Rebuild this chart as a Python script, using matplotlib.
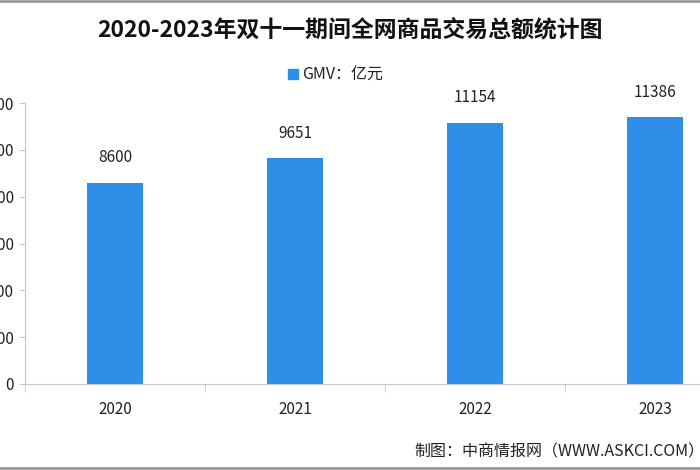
import matplotlib
matplotlib.use("Agg")
import matplotlib.pyplot as plt
from matplotlib.patches import Rectangle
from matplotlib.lines import Line2D

plt.rcParams['font.family'] = ['Noto Sans CJK SC', 'DejaVu Sans']

years = ['2020', '2021', '2022', '2023']
gmv = [8600, 9651, 11154, 11386]
yticks = [0, 2000, 4000, 6000, 8000, 10000, 12000]
title = '2020-2023年双十一期间全网商品交易总额统计图'
legend_label = 'GMV：亿元'
source = '制图：中商情报网（WWW.ASKCI.COM）'

bar_color = '#2E8EE8'
axis_color = '#C8C8C8'

fig = plt.figure(figsize=(7, 4.7), dpi=100)
ax = fig.add_axes([25/700, 86/470, 720/700, 281/470])

x = list(range(len(years)))
ax.bar(x, gmv, width=0.31, color=bar_color, zorder=2)
for xi, v in zip(x, gmv):
    ax.text(xi, v + 700, str(v), ha='center', va='bottom', fontsize=11, color='#222222')

ax.set_xlim(-0.5, 3.5)
ax.set_ylim(0, 12000)
ax.set_yticks(yticks)
ax.set_yticklabels([str(t) for t in yticks], fontsize=11, color='#222222')
ax.set_xticks(x)
ax.set_xticklabels(years, fontsize=11, color='#222222')
ax.tick_params(axis='x', length=0, pad=12)
ax.tick_params(axis='y', length=4, color=axis_color, pad=4)
ax.set_xticks([-0.5, 0.5, 1.5, 2.5, 3.5], minor=True)
ax.tick_params(axis='x', which='minor', length=6, color=axis_color)

for s in ['top', 'right']:
    ax.spines[s].set_visible(False)
ax.spines['left'].set_color(axis_color)
ax.spines['bottom'].set_color(axis_color)

fig.text(0.5, 1 - 30/470, title, ha='center', va='center', fontsize=16.5,
         fontweight='bold', color='#111111')

# legend
fig.patches.append(Rectangle((288/700, 1 - 79/470), 10/700, 10/470,
                             transform=fig.transFigure, color=bar_color))
fig.text(302/700, 1 - 74/470, legend_label, ha='left', va='center', fontsize=11.5,
         color='#222222')

fig.text(414/700, 1 - 452/470, source, ha='left', va='center', fontsize=11.5,
         color='#222222')

fig.add_artist(Line2D([0, 1], [1 - 1/470, 1 - 1/470], transform=fig.transFigure,
                      color='#999999', linewidth=2))
fig.add_artist(Line2D([0, 1], [2/470, 2/470], transform=fig.transFigure,
                      color='#999999', linewidth=2))

fig.savefig('out.png', dpi=100)
